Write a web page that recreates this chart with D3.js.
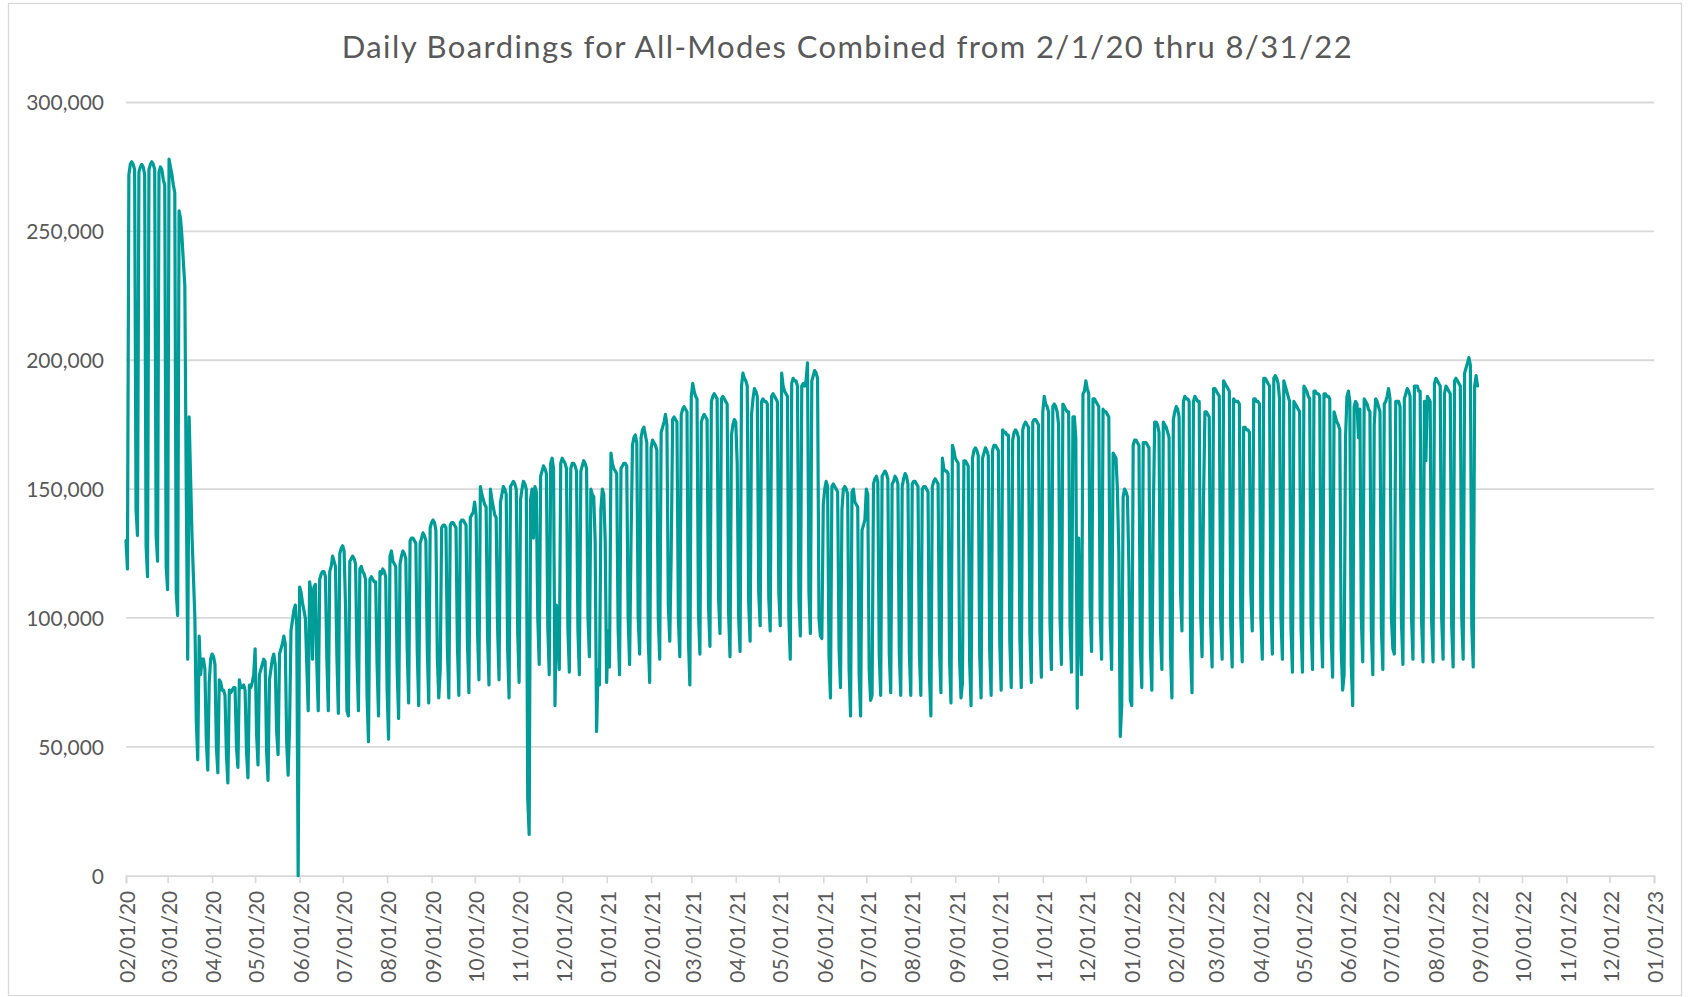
<!DOCTYPE html>
<html><head><meta charset="utf-8">
<script src="https://cdn.jsdelivr.net/npm/d3@7"></script>
<style>body{margin:0;background:#fff}svg{display:block}</style>
</head><body>
<svg id="c" width="1689" height="997"></svg>
<script>
// ---------------- DATA ----------------
const chartTitle = "Daily Boardings for All-Modes Combined from 2/1/20 thru 8/31/22";
const firstDay = "2020-02-01"; // a Saturday
// Daily boardings in thousands, one row per week: [Sat, Sun, Mon, Tue, Wed, Thu, Fri]
const weeklyBoardingsK = [
[130,119,272,276,277,276,274],[142,132,273,275,276,275,272],[128,116,274,276,277,276,274],[132,122,273,275,274,270,268],
[120,111,278,275,272,268,265],[110,101,258,255,248,238,229],[150,84,178,155,132,116,100],[60,45,93,78,84,84,80],
[52,41,75,84,86,85,82],[50,40,76,75,72,72,70],[47,36,72,71,72,73,73],[50,42,76,73,73,74,72],
[48,38,74,73,75,78,88],[55,43,78,80,82,84,83],[48,37,76,80,84,86,82],[56,47,86,88,90,93,90],
[52,39,58,95,99,103,105],[97,0,112,110,106,103,100],[82,64,114,110,84,112,113],[82,64,115,117,118,118,116],
[84,64,118,120,124,122,120],[85,63,125,127,128,126,105],[64,62,122,123,124,123,121],[84,64,119,120,118,117,115],
[70,52,115,116,115,114,114],[82,62,118,117,119,118,116],[72,53,124,126,122,121,120],[80,61,121,124,126,125,123],
[88,67,130,131,131,130,129],[87,66,129,131,133,132,130],[88,67,135,137,138,137,134],[85,69,80,135,136,136,135],
[88,69,136,137,137,136,135],[89,70,137,138,138,137,136],[90,71,139,140,141,145,140],[95,76,151,148,146,144,143],
[93,74,150,146,143,140,139],[96,76,145,148,151,150,148],[88,69,151,152,153,152,150],[95,75,146,150,153,152,150],
[30,16,146,150,131,151,149],[100,82,155,157,159,158,156],[96,78,160,162,158,66,105],[95,80,160,162,161,160,158],
[96,79,158,160,160,159,157],[95,78,157,159,161,160,158],[100,85,150,148,147,130,56],[80,74,142,150,148,130,75],
[95,81,164,160,158,157,156],[96,78,158,159,160,160,159],[100,82,130,167,170,171,168],[100,86,170,173,174,171,168],
[92,75,166,169,168,167,165],[100,84,172,174,176,179,175],[105,91,125,177,178,177,176],[100,85,179,181,182,181,180],
[92,74,186,191,188,186,185],[102,86,176,178,179,178,177],[105,89,184,186,187,186,185],[108,94,185,186,185,184,183],
[102,85,171,175,177,176,160],[100,87,190,195,193,192,190],[106,91,179,185,189,188,186],[110,97,184,185,184,184,183],
[108,95,186,187,186,185,184],[110,97,195,190,188,187,186],[100,84,191,193,192,192,190],[108,93,190,191,190,192,199],
[110,94,192,194,196,195,193],[100,93,92,144,150,153,151],[85,69,151,152,151,150,149],[88,73,142,150,151,150,148],
[80,62,149,150,145,144,143],[78,62,134,136,138,150,148],[80,68,70,152,154,155,153],[86,70,155,156,157,156,154],
[86,71,152,153,155,154,152],[86,70,151,154,156,155,152],[86,70,152,153,153,152,151],[86,70,150,151,151,150,149],
[78,62,151,153,154,153,152],[88,71,162,158,157,157,156],[84,67,167,165,162,161,160],[84,69,75,161,161,160,159],
[83,66,162,165,166,165,163],[86,69,162,164,166,165,163],[87,70,165,167,167,166,165],[90,72,173,172,172,171,171],
[91,73,169,172,173,172,170],[92,73,173,175,176,175,174],[94,75,176,177,177,176,175],[95,77,180,186,183,182,180],
[98,80,182,183,182,180,175],[100,82,183,182,181,180,180],[97,79,178,178,170,65,131],[95,78,187,188,192,189,187],
[104,87,185,185,184,183,182],[100,84,181,180,180,179,178],[98,80,164,163,162,150,125],[54,66,147,150,149,147,120],
[68,66,167,169,169,168,167],[88,73,168,168,168,167,166],[88,72,140,176,176,175,172],[96,80,176,175,174,172,170],
[86,69,177,180,182,181,178],[110,95,184,186,185,185,184],[88,71,184,186,185,184,184],[102,85,145,180,180,179,178],
[98,81,189,189,188,187,186],[100,84,192,191,190,189,188],[97,81,185,184,184,184,183],[100,83,174,174,173,173,172],
[110,95,185,185,184,184,183],[100,84,193,193,192,191,190],[103,86,193,194,193,191,185],[100,84,192,190,188,186,184],
[96,79,184,183,182,181,180],[96,79,190,189,188,186,185],[97,80,188,188,187,187,186],[98,81,187,187,186,186,185],
[93,77,180,178,176,175,173],[88,72,78,170,186,188,184],[82,66,182,184,183,170,181],[100,83,185,184,183,181,180],
[95,78,175,185,184,182,180],[96,80,183,184,186,189,185],[100,88,86,184,184,184,182],[98,82,185,187,189,188,186],
[100,84,190,190,190,188,188],[99,83,184,161,186,185,184],[99,83,191,193,192,191,190],[100,84,187,190,189,188,187],
[97,81,192,193,192,191,190],[100,84,195,197,199,201,198],[97,81,190,194,190]
];
const yTickValues = [0, 50000, 100000, 150000, 200000, 250000, 300000];
const xTickLabels = ["02/01/20","03/01/20","04/01/20","05/01/20","06/01/20","07/01/20","08/01/20","09/01/20","10/01/20",
  "11/01/20","12/01/20","01/01/21","02/01/21","03/01/21","04/01/21","05/01/21","06/01/21","07/01/21","08/01/21",
  "09/01/21","10/01/21","11/01/21","12/01/21","01/01/22","02/01/22","03/01/22","04/01/22","05/01/22","06/01/22",
  "07/01/22","08/01/22","09/01/22","10/01/22","11/01/22","12/01/22","01/01/23"];

// ---------------- BUILD ----------------
const parseISO = d3.utcParse("%Y-%m-%d");
const parseTick = d3.utcParse("%m/%d/%y");
const start = parseISO(firstDay);
const daily = weeklyBoardingsK.flat().map((v, i) => ({ date: d3.utcDay.offset(start, i), value: v * 1000 }));
const tickDates = xTickLabels.map(parseTick);

const font = "Lato, 'Open Sans', sans-serif";
const textColor = "#595959";
const gridColor = "#d9d9d9";
const lineColor = "#009c98";

const svg = d3.select("#c");
svg.append("rect").attr("width", 1689).attr("height", 997).attr("fill", "#fff");
svg.append("rect").attr("x", 8.5).attr("y", 3.5).attr("width", 1673).attr("height", 992)
  .attr("fill", "none").attr("stroke", gridColor).attr("stroke-width", 1.3);

const x = d3.scaleUtc().domain([tickDates[0], tickDates[tickDates.length - 1]]).range([126, 1654]);
const y = d3.scaleLinear().domain([0, 300000]).range([875.7, 102.5]);

// gridlines
svg.append("g").selectAll("line").data(yTickValues.filter(v => v > 0)).join("line")
  .attr("x1", x.range()[0]).attr("x2", x.range()[1])
  .attr("y1", d => y(d)).attr("y2", d => y(d))
  .attr("stroke", gridColor).attr("stroke-width", 1.8);

// y axis labels
const yAxis = d3.axisLeft(y).tickValues(yTickValues).tickSize(0).tickPadding(0)
  .tickFormat(d3.format(","));
const gy = svg.append("g").attr("transform", "translate(104,0)").call(yAxis);
gy.select(".domain").remove();
gy.selectAll("text").attr("font-family", font).attr("font-size", 21).attr("fill", textColor).attr("dy", "0.35em");

// x axis
const xAxis = d3.axisBottom(x).tickValues(tickDates).tickSize(7.5).tickPadding(0)
  .tickFormat((d, i) => xTickLabels[i]);
const gx = svg.append("g").attr("transform", `translate(0,${y(0)})`).call(xAxis);
gx.select(".domain").attr("stroke", gridColor).attr("stroke-width", 1.8);
gx.selectAll(".tick line").attr("stroke", gridColor).attr("stroke-width", 1.6);
gx.selectAll(".tick text")
  .attr("font-family", font).attr("font-size", 21).attr("fill", textColor)
  .attr("text-anchor", "end").attr("transform", "translate(1.5,15) rotate(-90)")
  .attr("x", 0).attr("y", 0).attr("dy", "0.35em");

// series line
const line = d3.line().x(d => x(d.date)).y(d => y(d.value));
svg.append("path").datum(daily).attr("d", line)
  .attr("fill", "none").attr("stroke", lineColor).attr("stroke-width", 3.2)
  .attr("stroke-linejoin", "round").attr("stroke-linecap", "round");

// title
svg.append("text").attr("x", 341.7).attr("y", 58).attr("text-anchor", "start")
  .attr("font-family", font).attr("font-size", 31).attr("fill", textColor)
  .attr("textLength", 1010).attr("lengthAdjust", "spacing").text(chartTitle);
</script>
</body></html>
